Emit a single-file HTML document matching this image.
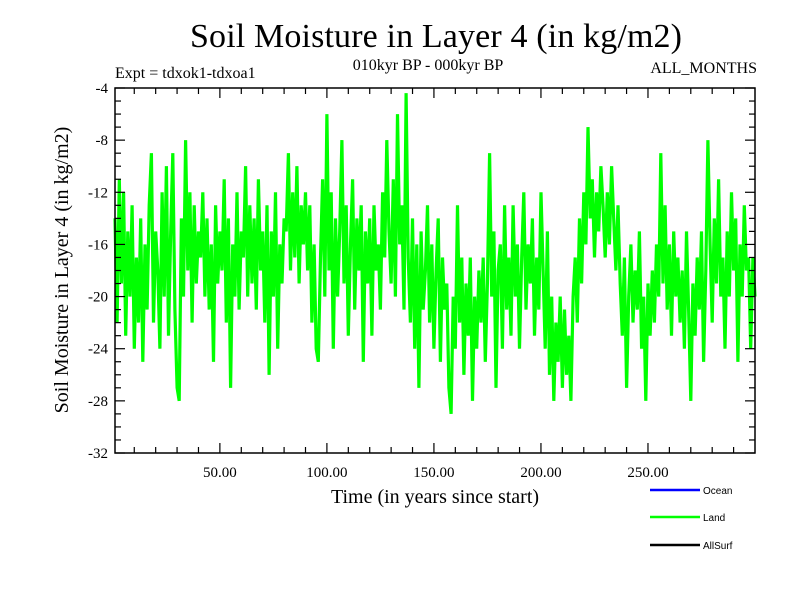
<!DOCTYPE html>
<html><head><meta charset="utf-8"><style>
body{margin:0;background:#fff;}
svg{display:block;}
.s{font-family:"Liberation Serif",serif;}
</style></head><body>
<svg id="c" width="800" height="600" xmlns="http://www.w3.org/2000/svg">
<text class="s" x="436" y="47" font-size="34" text-anchor="middle" textLength="492">Soil Moisture in Layer 4 (in kg/m2)</text>
<text class="s" x="428" y="70" font-size="16" text-anchor="middle">010kyr BP - 000kyr BP</text>
<text class="s" x="115" y="78" font-size="16">Expt = tdxok1-tdxoa1</text>
<text class="s" x="757" y="73" font-size="16" text-anchor="end">ALL_MONTHS</text>
<text class="s" x="435" y="503" font-size="20" text-anchor="middle">Time (in years since start)</text>
<text class="s" x="68" y="270" font-size="20" text-anchor="middle" transform="rotate(-90 68 270)">Soil Moisture in Layer 4 (in kg/m2)</text>
<g id="plot"></g>
<g id="axes"></g>
<g>
<line x1="650" y1="490" x2="700" y2="490" stroke="#0000ff" stroke-width="2.5"/>
<text x="703" y="494" font-family="Liberation Sans,sans-serif" font-size="10">Ocean</text>
<line x1="650" y1="517" x2="700" y2="517" stroke="#00ff00" stroke-width="2.5"/>
<text x="703" y="521" font-family="Liberation Sans,sans-serif" font-size="10">Land</text>
<line x1="650" y1="545" x2="700" y2="545" stroke="#000" stroke-width="2.5"/>
<text x="703" y="549" font-family="Liberation Sans,sans-serif" font-size="10">AllSurf</text>
</g>
</svg>
<script>
const yTicks=[-4,-8,-12,-16,-20,-24,-28,-32];
const xTicks=[50,100,150,200,250];
const xTickLabels=["50.00","100.00","150.00","200.00","250.00"];
const landValues=[
-14,-22,-11,-19,-12,-23,-15,-20,-13,-24,
-17,-22,-14,-25,-16,-21,-13,-9,-22,-15,
-18,-24,-12,-20,-10,-23,-15,-9,-21,-27,
-28,-14,-20,-8,-18,-12,-22,-13,-19,-15,
-17,-12,-20,-14,-21,-16,-25,-13,-19,-15,
-18,-11,-22,-14,-27,-16,-20,-12,-21,-15,
-17,-10,-20,-13,-19,-14,-21,-11,-18,-15,
-22,-13,-26,-15,-20,-12,-24,-16,-19,-14,
-15,-9,-18,-12,-17,-10,-19,-13,-16,-12,
-18,-13,-22,-16,-24,-25,-17,-11,-20,-6,
-18,-12,-24,-14,-20,-15,-8,-19,-13,-23,
-16,-11,-21,-14,-18,-13,-25,-15,-19,-14,
-23,-13,-18,-16,-21,-12,-17,-8,-15,-19,
-11,-20,-6,-16,-13,-21,-4.4,-17,-22,-14,
-24,-16,-27,-15,-21,-18,-13,-22,-16,-24,
-18,-14,-25,-17,-21,-19,-27,-29,-20,-24,
-13,-22,-17,-26,-19,-23,-17,-28,-20,-24,
-18,-22,-17,-25,-19,-9,-20,-15,-27,-18,
-16,-24,-13,-21,-17,-23,-13,-20,-16,-24,
-17,-12,-21,-16,-19,-14,-23,-17,-21,-12,
-18,-24,-15,-26,-20,-28,-22,-25,-20,-27,
-21,-26,-23,-28,-20,-17,-22,-14,-19,-12,
-16,-7,-14,-11,-17,-12,-15,-10,-13,-17,
-12,-16,-10,-14,-18,-13,-19,-23,-17,-27,
-20,-16,-22,-18,-21,-15,-24,-20,-28,-19,
-23,-18,-22,-16,-20,-9,-19,-13,-21,-16,
-23,-15,-20,-17,-22,-18,-24,-15,-21,-28,
-19,-23,-17,-21,-15,-25,-18,-8,-16,-22,
-14,-19,-11,-20,-17,-24,-15,-20,-12,-18,
-14,-25,-16,-20,-13,-18,-17,-24,-17,-20];
const L=115,R=755,T=88,B=453,X0=1,X1=300,Y0=-32,Y1=-4;
const xs=v=>L+(v-X0)/(X1-X0)*(R-L);
const ys=v=>B-(v-Y0)/(Y1-Y0)*(B-T);
const NS="http://www.w3.org/2000/svg";
function mk(t,a,p){const e=document.createElementNS(NS,t);for(const k in a)e.setAttribute(k,a[k]);p.appendChild(e);return e;}
const plot=document.getElementById('plot');
const pts=landValues.map((v,i)=>xs(X0+i).toFixed(1)+","+ys(v).toFixed(1)).join(" ");
const pl=mk('polyline',{points:pts,fill:'none',stroke:'#00ff00','stroke-width':3.2,'stroke-linejoin':'bevel'},plot);


const ax=document.getElementById('axes');
const fr=mk('rect',{x:L,y:T,width:R-L,height:B-T,fill:'none',stroke:'#000','stroke-width':1.5},ax);


for(let v=-32;v<=-4;v++){const y=ys(v),len=(v%4===0)?10:6;
mk('line',{x1:L,y1:y,x2:L+len,y2:y,stroke:'#000','stroke-width':1.2},ax);
mk('line',{x1:R,y1:y,x2:R-len,y2:y,stroke:'#000','stroke-width':1.2},ax);}
for(let v=10;v<300;v+=10){const x=xs(v),len=(v%50===0)?10:6;
mk('line',{x1:x,y1:B,x2:x,y2:B-len,stroke:'#000','stroke-width':1.2},ax);
mk('line',{x1:x,y1:T,x2:x,y2:T+len,stroke:'#000','stroke-width':1.2},ax);}
yTicks.forEach(v=>{const t=mk('text',{x:108,y:ys(v)+5,'font-size':15,'text-anchor':'end','font-family':'Liberation Serif,serif'},ax);t.textContent=v;

});
xTicks.forEach((v,i)=>{const t=mk('text',{x:xs(v),y:477,'font-size':15,'text-anchor':'middle','font-family':'Liberation Serif,serif'},ax);t.textContent=xTickLabels[i];

});
</script>
</body></html>
